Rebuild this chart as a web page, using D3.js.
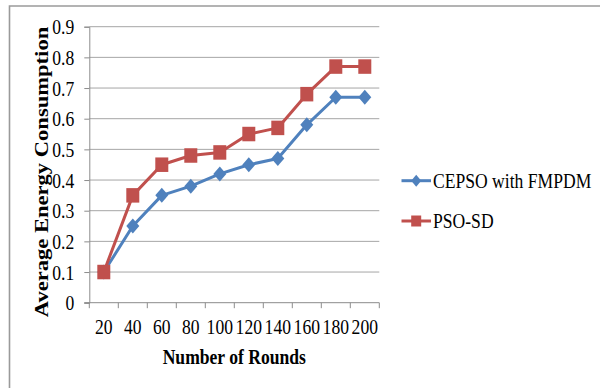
<!DOCTYPE html>
<html>
<head>
<meta charset="utf-8">
<script src="https://cdn.jsdelivr.net/npm/d3@7"></script>
<style>
  html, body { margin: 0; padding: 0; background: #fff; }
  svg { display: block; }
  text { font-family: "Liberation Serif", "Times New Roman", serif; fill: #000; }
</style>
</head>
<body>
<svg id="chart" width="600" height="388"></svg>
<script>
// Rounds on the x axis and average energy consumption per protocol
const rounds = [20, 40, 60, 80, 100, 120, 140, 160, 180, 200];
const cepso = [0.10, 0.25, 0.35, 0.38, 0.42, 0.45, 0.47, 0.58, 0.67, 0.67];
const psoSd = [0.10, 0.35, 0.45, 0.48, 0.49, 0.55, 0.57, 0.68, 0.77, 0.77];
const yTicks = [0, 0.1, 0.2, 0.3, 0.4, 0.5, 0.6, 0.7, 0.8, 0.9];
const seriesNames = ["CEPSO with FMPDM", "PSO-SD"];

const series = [
  { name: seriesNames[0], values: cepso, color: "#4F81BD", shape: "diamond" },
  { name: seriesNames[1], values: psoSd, color: "#C0504D", shape: "square" }
];

const svg = d3.select("#chart");
const FONT = 17.6;
const STRETCH = 1.2;   // text is drawn slightly tall

// outer frame (left and top edges)
svg.append("path")
  .attr("d", "M9.5,388 V6 H600")
  .attr("fill", "none")
  .attr("stroke", "#9a9a9a")
  .attr("stroke-width", 1.6);

const plot = { left: 89.3, right: 379.3, top: 26.7, bottom: 302.7 };

const x = d3.scaleBand().domain(rounds).range([plot.left, plot.right]);
const y = d3.scaleLinear().domain([0, 0.9]).range([plot.bottom, plot.top]);

// horizontal gridlines
svg.append("g")
  .selectAll("line")
  .data(yTicks.filter(d => d > 0))
  .join("line")
  .attr("x1", plot.left).attr("x2", plot.right)
  .attr("y1", d => y(d)).attr("y2", d => y(d))
  .attr("stroke", "#a6a6a6").attr("stroke-width", 1);

// y axis
const yAxis = svg.append("g")
  .attr("transform", `translate(${plot.left},0)`)
  .call(d3.axisLeft(y).tickValues(yTicks).tickSize(5).tickPadding(10)
    .tickFormat(d => d === 0 ? "0" : d3.format(".1f")(d)));
yAxis.select(".domain").attr("stroke", "#8c8c8c");
yAxis.selectAll(".tick line").attr("stroke", "#8c8c8c");
yAxis.selectAll(".tick text")
  .attr("font-family", "Liberation Serif, serif")
  .attr("font-size", FONT)
  .attr("fill", "#000")
  .attr("dy", null)
  .attr("dominant-baseline", "central")
  .attr("transform", `translate(-15,0) scale(1,${STRETCH})`)
  .attr("x", 0);

// x axis with ticks at band boundaries
const xAxisG = svg.append("g").attr("transform", `translate(0,${plot.bottom})`);
xAxisG.append("line")
  .attr("x1", plot.left - 5).attr("x2", plot.right)
  .attr("y1", 0).attr("y2", 0)
  .attr("stroke", "#8c8c8c");
const bounds = rounds.map(r => x(r)).concat([x(rounds[rounds.length - 1]) + x.bandwidth()]);
xAxisG.selectAll("line.tk")
  .data(bounds)
  .join("line")
  .attr("class", "tk")
  .attr("x1", d => d).attr("x2", d => d)
  .attr("y1", 0).attr("y2", 5.5)
  .attr("stroke", "#8c8c8c");
xAxisG.selectAll("text.lbl")
  .data(rounds)
  .join("text")
  .attr("class", "lbl")
  .attr("text-anchor", "middle")
  .attr("dominant-baseline", "central")
  .attr("font-size", FONT)
  .attr("transform", d => `translate(${x(d) + x.bandwidth() / 2},24) scale(1,${STRETCH})`)
  .text(d => d);

// axis titles
svg.append("text")
  .attr("text-anchor", "middle")
  .attr("dominant-baseline", "central")
  .attr("font-weight", "bold")
  .attr("font-size", FONT)
  .attr("transform", `translate(234.3,356.7) scale(1,${STRETCH})`)
  .text("Number of Rounds");

svg.append("text")
  .attr("text-anchor", "middle")
  .attr("dominant-baseline", "central")
  .attr("font-weight", "bold")
  .attr("font-size", 18.2)
  .attr("transform", `translate(41.5,172) scale(1,1.24) rotate(-90)`)
  .text("Average Energy Consumption");

// marker paths
function markerPath(shape, w, h) {
  if (shape === "diamond") {
    return `M0,${-h / 2} L${w / 2},0 L0,${h / 2} L${-w / 2},0 Z`;
  }
  return `M${-w / 2},${-h / 2} H${w / 2} V${h / 2} H${-w / 2} Z`;
}

const line = d3.line()
  .x((d, i) => x(rounds[i]) + x.bandwidth() / 2)
  .y(d => y(d));

series.forEach(s => {
  const g = svg.append("g");
  g.append("path")
    .attr("d", line(s.values))
    .attr("fill", "none")
    .attr("stroke", s.color)
    .attr("stroke-width", 3)
    .attr("stroke-linejoin", "round");
  g.selectAll("path.mk")
    .data(s.values)
    .join("path")
    .attr("class", "mk")
    .attr("transform", (d, i) => `translate(${x(rounds[i]) + x.bandwidth() / 2},${y(d)})`)
    .attr("d", s.shape === "diamond" ? markerPath("diamond", 13, 15) : markerPath("square", 13, 14.5))
    .attr("fill", s.color);
});

// legend
const legendY = [180.7, 221];
series.forEach((s, i) => {
  const g = svg.append("g").attr("transform", `translate(0,${legendY[i]})`);
  g.append("line")
    .attr("x1", 401.5).attr("x2", 431)
    .attr("y1", 0).attr("y2", 0)
    .attr("stroke", s.color).attr("stroke-width", 3);
  g.append("path")
    .attr("transform", "translate(416.2,0)")
    .attr("d", s.shape === "diamond" ? markerPath("diamond", 10, 12) : markerPath("square", 10, 11))
    .attr("fill", s.color);
  g.append("text")
    .attr("dominant-baseline", "central")
    .attr("font-size", FONT)
    .attr("transform", `translate(433,0) scale(1,${STRETCH})`)
    .text(s.name);
});
</script>
</body>
</html>
